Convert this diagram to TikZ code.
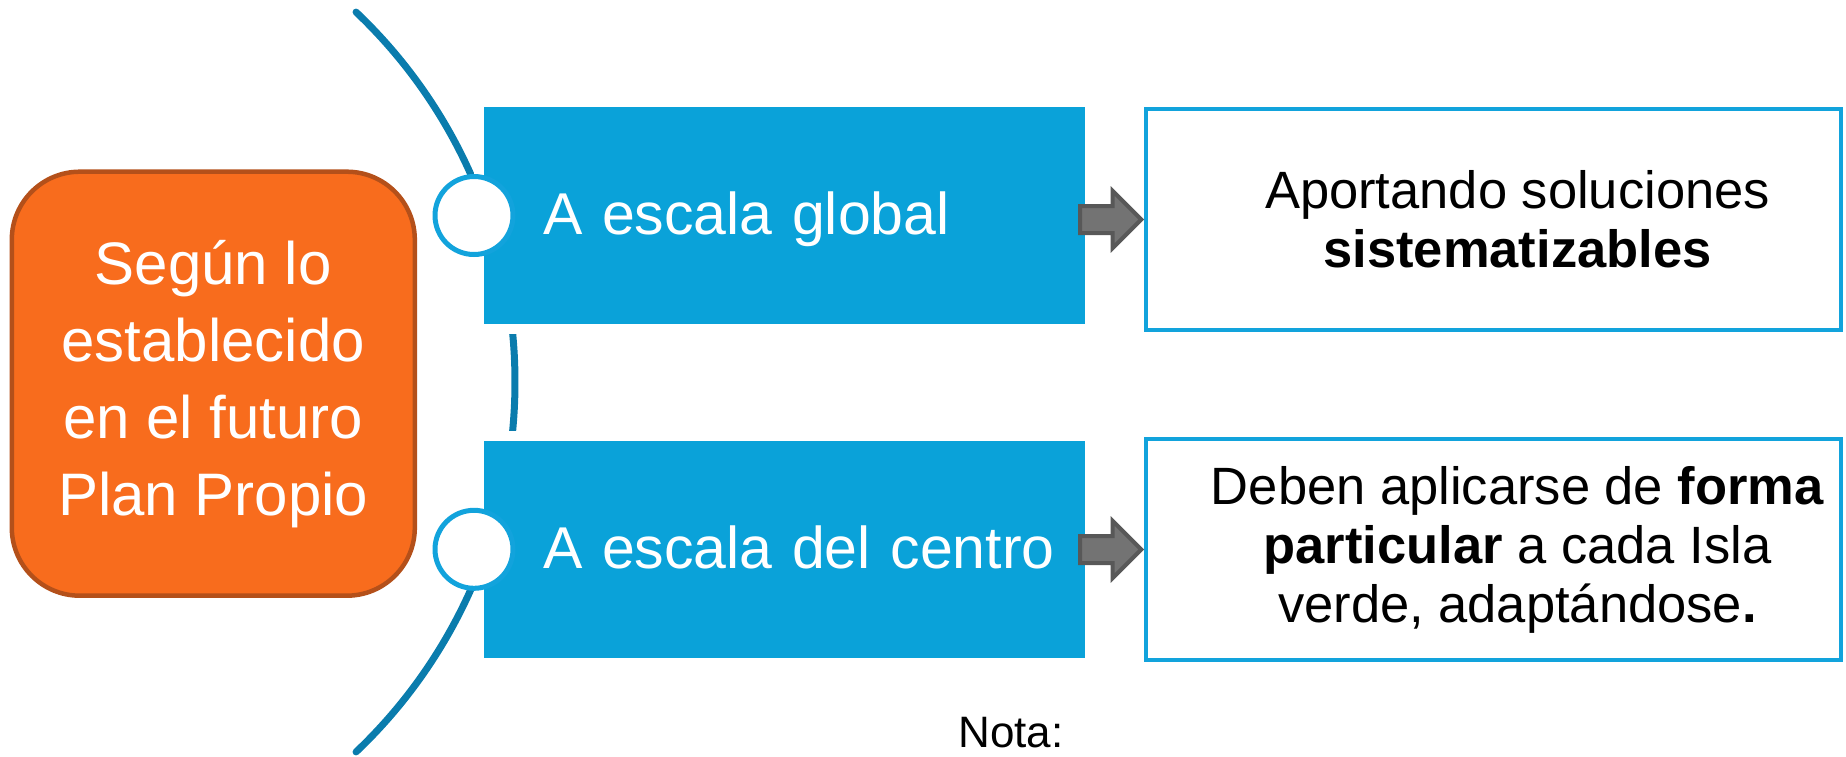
\documentclass[tikz,border=0pt]{standalone}
\usepackage{fontspec}
\setmainfont{Liberation Sans}
\usetikzlibrary{calc}
\usetikzlibrary{positioning}
\usetikzlibrary{shapes.arrows}

\definecolor{naranja}{HTML}{F86C1D}
\definecolor{naranjaB}{HTML}{B4501A}
\definecolor{azul}{HTML}{0AA2D9}
\definecolor{azulO}{HTML}{0A7CAD}
\definecolor{azulC}{HTML}{12A3DC}
\definecolor{gris}{HTML}{737373}
\definecolor{grisB}{HTML}{585858}

\tikzset{
 plan/.style={draw=naranjaB, fill=naranja, line width=4.5pt, rounded corners=68pt, minimum width=403pt, minimum height=424pt, inner sep=0pt, text=white, align=center, font=\fontsize{60}{77}\selectfont},
 escala/.style={fill=azul, draw=white, line width=10pt, minimum width=611pt, minimum height=227pt, inner xsep=64pt, text width=483pt, align=left, text=white, text height=42pt, text depth=4pt, font=\fontsize{59}{70}\selectfont},
 punto/.style={circle, draw=azulC, fill=white, line width=5pt, minimum size=78pt, inner sep=0pt},
 caja/.style={draw=azulC, fill=white, line width=4pt, minimum width=695pt, minimum height=221pt},
 cajatxt/.style={align=center, inner sep=0pt, font=\fontsize{52.5}{59}\selectfont},
 flecha/.style={single arrow, draw=grisB, fill=gris, line width=4pt, minimum height=61pt, text height=23pt, text depth=0pt, single arrow head extend=15pt, inner sep=0pt},
 arco/.style={draw=azulO, line width=7pt, line cap=round}
}

\begin{document}
\begin{tikzpicture}[x=1pt, y=-1pt]
\useasboundingbox (0,0) rectangle (1846,756);
\draw[arco] (5,382) ++(-46.5:510) arc[start angle=-46.5, end angle=46.5, radius=510];

\node[plan] (plan) at (213.3,383.7) {Según lo\\establecido\\en el futuro\\Plan Propio};

\node[escala] (global) at (784.5,215.5) {\mbox{A escala global}};
\node[escala] (centro) at (784.5,549.3) {\mbox{A escala del centro}};
\node[punto] (pg) at (global.west) {};
\node[punto] (pc) at (centro.west) {};

\node[caja] (sol) at (1493.5,219.5) {};
\node[caja] (part) at (1493.5,549.5) {};
\node[cajatxt] (soltxt) at ([xshift=24]sol.center) {Aportando soluciones\\\textbf{sistematizables}};
\node[cajatxt] (parttxt) at ([xshift=24]part.center) {Deben aplicarse de \textbf{forma}\\\textbf{particular} a cada Isla\\verde, adaptándose\textbf{.}};

\node[flecha, anchor=tip] (f1) at (sol.west) {};
\node[flecha, anchor=tip] (f2) at (part.west) {};

\node[anchor=base, inner sep=0pt, font=\fontsize{44}{50}\selectfont] (nota) at (1011,747.6) {Nota:};
\end{tikzpicture}
\end{document}
